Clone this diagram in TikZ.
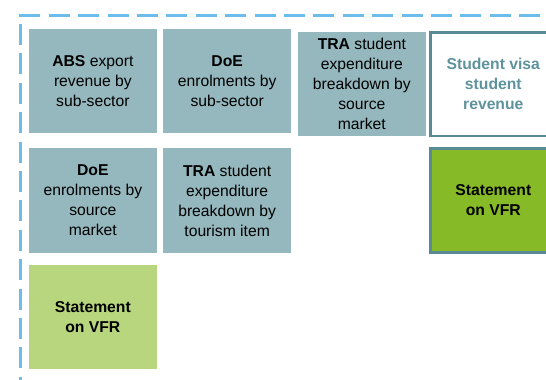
\documentclass[tikz,border=0pt]{standalone}
\usepackage{fontspec}
\setmainfont{Liberation Sans}
\definecolor{greyteal}{HTML}{95B8BE}
\definecolor{tealborder}{HTML}{5B8A97}
\definecolor{tealtext}{HTML}{5E929D}
\definecolor{vfrgreen}{HTML}{86BA26}
\definecolor{lightgreen}{HTML}{B8D67D}
\definecolor{dashblue}{HTML}{6CBDEB}
\tikzset{
  boxtext/.style={align=center, inner sep=0pt, font=\fontsize{15.7}{20}\selectfont},
  greybox/.style={boxtext, fill=greyteal, minimum width=127.7pt, minimum height=104.3pt},
  visabox/.style={boxtext, draw=tealborder, line width=2.8pt, fill=white, text=tealtext, minimum width=125.2pt, minimum height=103.2pt},
  vfrbox/.style={boxtext, draw=tealborder, line width=2.8pt, fill=vfrgreen, minimum width=125.2pt, minimum height=104.5pt},
  lightbox/.style={boxtext, fill=lightgreen, minimum width=127.7pt, minimum height=104.3pt},
  frameline/.style={draw=dashblue, line width=2.7pt, dash pattern=on 21pt off 8.4pt}
}
\begin{document}
\begin{tikzpicture}[x=1pt, y=-1pt]
\useasboundingbox (0,0) rectangle (546,380);
\clip (0,0) rectangle (546,380);
\draw[frameline] (19.3,15.3) -- (570,15.3);
\draw[frameline] (20.7,24) -- (20.7,400);
\node[greybox] (abs) at (92.85,81.15) {\textbf{ABS} export\\revenue by\\sub-sector};
\node[greybox] (doe1) at (227.15,81.15) {\textbf{DoE}\\enrolments by\\sub-sector};
\node[greybox, minimum height=104.2pt] (tra1) at (361.85,83.6) {\textbf{TRA} student\\expenditure\\breakdown by\\source\\market};
\node[visabox] (visa) at (493.3,84.3) {\textbf{Student visa}\\\textbf{student}\\\textbf{revenue}};
\node[greybox, minimum height=104.2pt] (doe2) at (92.85,200.4) {\textbf{DoE}\\enrolments by\\source\\market};
\node[greybox, minimum height=104.2pt] (tra2) at (227.15,200.4) {\textbf{TRA} student\\expenditure\\breakdown by\\tourism item};
\node[vfrbox] (vfr1) at (493.3,200.35) {\textbf{Statement}\\\textbf{on VFR}};
\node[lightbox] (vfr2) at (92.85,317.15) {\textbf{Statement}\\\textbf{on VFR}};
\end{tikzpicture}
\end{document}
